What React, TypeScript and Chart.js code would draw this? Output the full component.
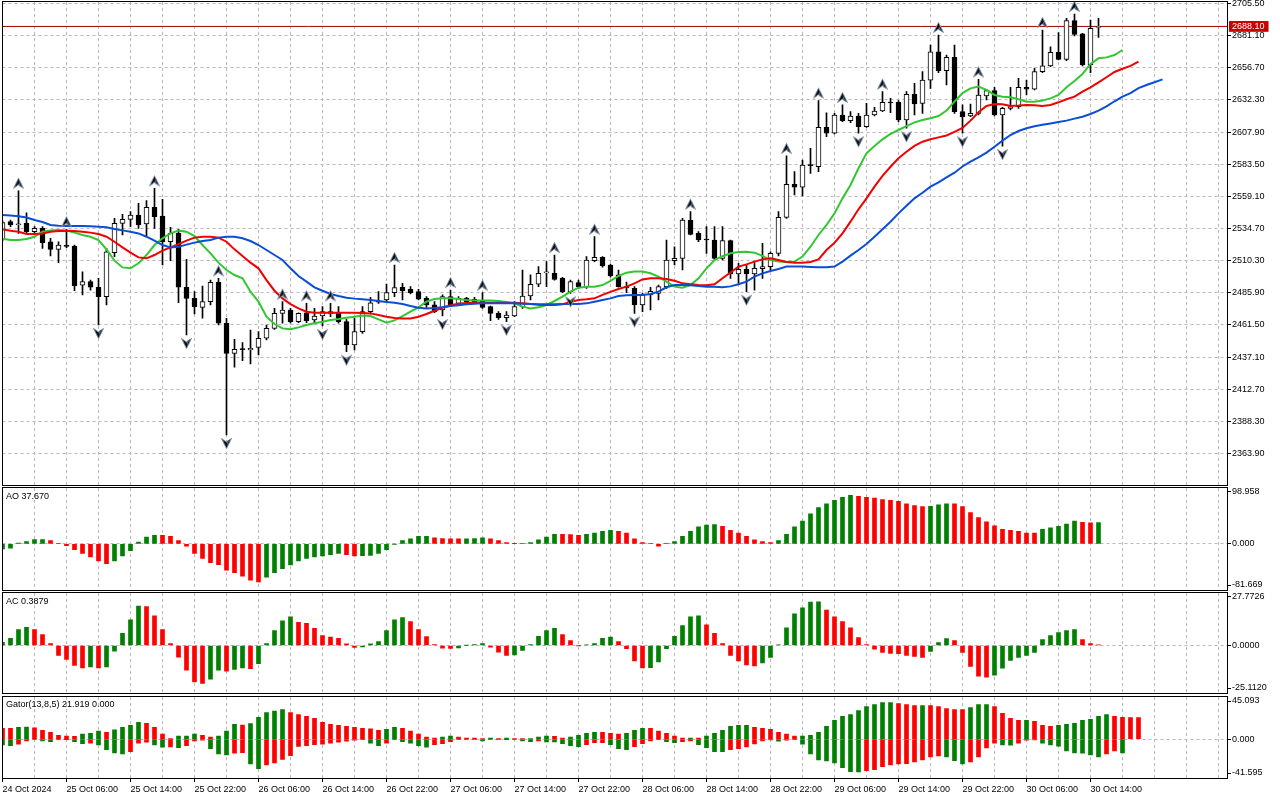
import React, { useEffect, useRef } from "react";
import { Chart, registerables } from "chart.js";

Chart.register(...registerables);

// ---------------- data (H1 bars, 24 Oct 22:00 .. 30 Oct 15:00) ----------------
const OPEN = [2526.0,2539.9,2537.6,2538.6,2532.3,2534.8,2524.7,2518.9,2521.6,2521.4,2491.8,2494.4,2490.1,2483.0,2516.4,2538.6,2541.7,2545.0,2538.2,2550.8,2544.2,2524.7,2531.0,2490.1,2481.7,2474.9,2479.2,2493.9,2462.8,2440.0,2443.2,2442.5,2444.5,2451.4,2458.9,2470.3,2472.9,2464.0,2470.8,2465.3,2468.3,2469.8,2470.3,2464.0,2446.3,2456.4,2471.6,2479.2,2480.5,2486.0,2490.1,2488.6,2486.8,2481.7,2476.7,2472.9,2483.0,2477.9,2481.7,2479.2,2480.0,2475.4,2470.3,2467.1,2468.3,2475.4,2483.5,2492.4,2501.0,2500.7,2496.9,2486.8,2493.6,2490.6,2510.3,2512.8,2507.0,2499.5,2490.6,2489.3,2476.7,2484.3,2485.5,2490.6,2510.3,2512.1,2541.2,2531.0,2526.5,2526.0,2512.1,2525.5,2500.2,2503.7,2500.2,2504.2,2505.8,2515.9,2543.2,2568.3,2566.0,2582.9,2581.7,2611.5,2607.0,2620.9,2616.6,2620.1,2612.0,2620.9,2623.9,2630.5,2630.5,2617.1,2636.6,2629.7,2647.4,2668.9,2654.5,2664.6,2623.4,2620.1,2622.1,2635.3,2639.4,2620.9,2625.9,2627.2,2641.9,2640.4,2653.8,2658.1,2668.4,2663.1,2692.5,2682.4,2658.8,2687.3];
const HIGH = [2540.5,2541.2,2563.4,2546.7,2536.1,2536.1,2527.3,2524.7,2534.1,2522.2,2501.9,2495.6,2496.9,2519.7,2542.4,2545.5,2547.5,2553.8,2555.9,2565.2,2556.9,2535.6,2534.1,2511.3,2486.8,2491.1,2495.6,2496.9,2466.6,2450.6,2448.1,2457.7,2456.4,2461.5,2474.1,2479.2,2474.1,2470.8,2477.9,2474.1,2475.4,2477.9,2475.4,2465.8,2466.6,2475.4,2482.5,2486.8,2492.6,2507.0,2493.1,2490.6,2488.6,2483.0,2479.2,2484.3,2488.0,2483.0,2482.5,2482.5,2486.0,2475.9,2471.6,2471.6,2479.2,2503.2,2499.5,2505.8,2509.6,2514.6,2497.7,2495.6,2495.6,2513.4,2528.5,2513.4,2507.8,2503.2,2494.0,2490.6,2485.5,2490.0,2491.8,2526.0,2520.9,2542.4,2547.5,2532.3,2536.1,2536.1,2536.1,2526.0,2508.3,2507.0,2509.6,2523.5,2517.1,2547.5,2589.8,2577.9,2586.7,2595.6,2631.8,2622.6,2622.1,2628.5,2623.4,2622.1,2629.7,2626.7,2638.6,2633.5,2631.8,2638.6,2644.9,2653.8,2674.0,2681.6,2666.4,2674.0,2628.5,2629.2,2647.9,2640.4,2641.9,2626.7,2641.9,2648.7,2647.4,2656.3,2685.4,2672.7,2683.4,2694.2,2697.5,2682.9,2693.0,2694.2];
const LOW = [2525.5,2536.1,2531.0,2531.0,2531.0,2519.7,2513.9,2508.8,2520.2,2487.5,2484.3,2488.0,2461.5,2476.7,2513.3,2529.8,2536.1,2534.8,2528.5,2534.8,2507.0,2510.3,2478.4,2453.9,2469.8,2466.6,2476.7,2461.5,2378.0,2429.4,2434.4,2431.9,2438.7,2450.1,2458.2,2462.8,2462.8,2463.3,2463.3,2462.8,2460.7,2467.8,2462.8,2441.2,2442.5,2455.1,2469.8,2477.9,2479.2,2483.0,2480.5,2485.0,2480.5,2474.9,2470.8,2468.3,2475.4,2476.7,2478.0,2478.0,2474.1,2464.8,2465.8,2464.0,2467.8,2474.1,2480.5,2490.6,2490.6,2495.6,2486.0,2485.5,2489.3,2489.3,2509.6,2505.3,2497.7,2490.1,2486.0,2470.3,2471.6,2473.0,2480.5,2489.3,2507.0,2503.2,2529.8,2524.7,2515.9,2510.8,2510.8,2496.9,2493.1,2486.8,2488.0,2496.9,2503.2,2513.9,2542.4,2560.2,2559.4,2576.6,2577.9,2604.4,2606.5,2615.8,2615.1,2607.0,2611.5,2620.1,2623.4,2622.6,2615.8,2610.8,2620.9,2622.1,2641.1,2653.0,2643.7,2622.1,2607.0,2619.6,2620.9,2632.3,2620.1,2597.3,2624.7,2625.9,2636.1,2639.9,2653.0,2657.6,2662.6,2662.1,2680.8,2658.1,2653.0,2679.8];
const CLOSE = [2539.2,2537.4,2538.0,2532.3,2534.8,2524.0,2518.9,2522.2,2521.2,2491.1,2494.4,2490.1,2483.0,2517.1,2538.6,2541.7,2545.0,2537.4,2550.8,2543.7,2524.7,2531.0,2490.1,2481.7,2475.4,2479.2,2493.9,2462.8,2440.0,2443.0,2442.8,2443.8,2451.4,2458.9,2470.3,2472.9,2464.0,2470.3,2464.8,2468.3,2471.6,2471.6,2464.0,2446.3,2456.4,2471.6,2478.4,2478.8,2486.0,2489.8,2487.5,2486.0,2481.0,2476.7,2471.6,2483.0,2476.7,2481.7,2479.2,2481.0,2474.9,2470.3,2467.1,2469.1,2475.4,2483.5,2492.4,2500.7,2501.4,2496.1,2486.8,2494.4,2490.6,2510.8,2512.8,2506.3,2498.7,2490.6,2489.6,2476.7,2484.3,2487.0,2490.6,2510.8,2512.1,2541.2,2530.3,2526.0,2526.0,2512.1,2525.5,2500.2,2503.7,2500.2,2504.5,2505.8,2515.9,2543.2,2568.3,2566.0,2582.9,2582.4,2611.5,2607.0,2620.9,2616.6,2620.1,2612.0,2620.9,2623.9,2630.5,2630.0,2617.1,2636.6,2629.2,2647.4,2668.9,2654.5,2664.6,2623.4,2619.6,2622.1,2636.0,2639.4,2620.9,2625.9,2627.2,2641.9,2640.4,2653.8,2658.1,2668.4,2663.1,2692.5,2682.1,2658.8,2686.7,2688.1];

// Alligator (displayed with their forward shifts: jaw +8, teeth +5, lips +3)
const JAW = [2545.0,2544.5,2544.0,2543.0,2541.2,2539.7,2537.4,2536.9,2536.6,2536.6,2536.6,2536.4,2536.1,2535.6,2534.4,2533.3,2532.3,2531.0,2528.5,2525.5,2522.2,2520.4,2520.9,2522.5,2524.0,2525.2,2526.0,2527.8,2528.5,2528.5,2527.3,2525.2,2522.2,2518.4,2514.6,2510.8,2504.5,2498.7,2494.4,2490.1,2487.5,2485.0,2483.5,2482.2,2481.5,2481.0,2480.5,2479.7,2479.0,2478.3,2477.4,2475.9,2474.6,2474.1,2474.4,2474.9,2475.9,2476.4,2477.2,2477.7,2477.9,2477.9,2477.9,2477.9,2477.9,2477.7,2477.4,2477.2,2477.2,2477.2,2477.4,2477.4,2477.4,2477.9,2479.2,2480.5,2481.7,2483.5,2484.0,2484.3,2484.3,2485.0,2486.8,2490.1,2491.8,2491.8,2491.6,2491.1,2490.6,2490.6,2490.2,2490.8,2492.4,2494.4,2498.2,2500.7,2502.5,2504.0,2505.8,2505.8,2505.8,2505.5,2505.3,2505.3,2505.8,2509.6,2514.1,2518.4,2523.0,2528.5,2534.1,2539.9,2546.2,2552.0,2557.6,2561.9,2566.5,2569.8,2573.6,2577.1,2581.8,2585.4,2588.7,2592.3,2596.8,2601.4,2605.7,2608.7,2610.8,2612.3,2613.5,2614.5,2615.6,2616.6,2618.1,2619.6,2621.6,2624.2,2627.5,2631.3,2634.8,2637.5,2641.3,2643.6,2645.7,2647.9];
const TEETH = [2534.1,2533.1,2532.3,2530.5,2530.5,2531.0,2532.3,2532.8,2533.1,2532.8,2532.3,2531.6,2530.5,2528.5,2524.7,2520.4,2516.4,2512.8,2512.1,2514.6,2517.9,2520.4,2522.9,2525.5,2527.8,2528.5,2528.5,2527.8,2524.7,2518.9,2513.9,2508.8,2504.5,2495.6,2487.5,2481.7,2477.4,2474.1,2471.6,2470.8,2470.8,2470.8,2470.8,2470.8,2470.8,2470.6,2470.3,2469.1,2467.8,2466.8,2466.5,2466.5,2467.8,2469.8,2472.3,2474.6,2476.4,2477.7,2478.2,2478.4,2478.4,2478.4,2478.4,2478.4,2478.4,2477.9,2477.4,2476.9,2476.7,2476.7,2477.2,2478.9,2480.5,2481.0,2481.7,2484.3,2486.6,2488.8,2490.6,2493.1,2496.1,2496.9,2496.9,2496.4,2495.1,2493.1,2492.4,2491.8,2491.6,2492.4,2497.0,2501.3,2505.8,2507.5,2509.6,2511.3,2512.1,2510.8,2509.3,2508.8,2508.8,2509.3,2511.3,2518.4,2523.9,2531.0,2539.9,2549.3,2557.6,2566.5,2574.6,2581.6,2588.0,2593.0,2597.4,2600.6,2602.4,2603.9,2605.3,2608.0,2611.0,2616.6,2623.0,2627.7,2629.2,2629.0,2627.7,2628.0,2628.5,2628.2,2627.7,2628.5,2630.5,2632.8,2634.8,2638.6,2641.9,2645.6,2649.5,2653.5,2656.0,2658.1,2661.3];
const LIPS = [2527.0,2526.0,2526.0,2526.8,2528.5,2532.3,2533.3,2533.6,2533.1,2531.6,2529.8,2528.5,2526.0,2518.9,2510.3,2505.2,2504.5,2508.3,2514.6,2522.2,2527.3,2531.0,2533.1,2532.3,2529.0,2522.2,2515.9,2508.8,2503.2,2499.4,2496.9,2486.8,2479.2,2467.8,2462.2,2458.9,2458.2,2459.7,2461.5,2462.8,2464.0,2465.3,2466.0,2467.0,2467.8,2468.6,2468.3,2465.8,2463.3,2465.0,2468.3,2471.6,2474.9,2479.2,2481.2,2481.7,2481.7,2481.2,2480.5,2480.0,2480.0,2480.0,2479.7,2478.9,2477.9,2475.4,2474.1,2474.9,2476.7,2479.7,2483.0,2486.8,2489.8,2490.6,2490.6,2491.8,2494.9,2498.7,2501.2,2502.0,2502.0,2500.7,2498.2,2494.4,2490.6,2489.8,2491.8,2496.9,2504.5,2510.8,2513.7,2515.9,2516.9,2517.1,2516.4,2513.9,2510.8,2509.6,2509.3,2509.6,2513.4,2520.9,2529.8,2537.4,2546.2,2557.6,2567.7,2580.4,2591.8,2597.3,2602.4,2606.5,2609.5,2612.5,2615.3,2617.1,2618.4,2620.1,2624.3,2631.0,2637.5,2641.1,2642.4,2639.9,2636.1,2634.8,2634.3,2632.8,2631.0,2631.0,2631.8,2633.5,2636.1,2641.9,2646.7,2652.0,2659.6,2663.9,2664.6,2666.4,2670.2];

// Fractal bar indexes
const FRACTAL_UP = [2,8,19,27,35,38,41,49,56,60,69,74,86,98,102,105,110,117,122,130,134];
const FRACTAL_DOWN = [12,23,28,40,43,55,63,71,79,93,107,113,120,125];

// Oscillators
const AO = [-9.0,-7.8,1.2,4.2,7.4,7.6,6.0,0.6,-3.0,-10.2,-16.9,-22.9,-30.1,-34.9,-30.1,-21.1,-12.0,3.0,12.0,15.3,15.0,13.2,6.0,-4.2,-16.9,-25.9,-33.1,-36.7,-46.4,-51.2,-57.2,-64.4,-67.4,-59.0,-51.2,-43.9,-37.3,-30.1,-25.9,-22.9,-21.1,-19.3,-16.9,-19.3,-21.1,-20.8,-20.5,-16.9,-10.2,-0.5,6.0,9.0,13.2,13.5,10.8,9.3,9.1,9.0,9.1,9.3,10.8,9.0,6.0,2.4,0.2,0.6,2.4,7.2,12.0,16.9,16.7,16.5,15.1,16.9,19.3,22.3,24.1,22.3,19.3,9.0,2.4,0.6,-4.2,0.6,4.2,13.2,22.3,30.1,33.1,34.3,31.3,24.1,19.3,13.2,7.2,4.2,2.4,6.0,16.9,30.1,40.3,53.0,64.4,71.0,77.1,82.5,86.1,84.3,82.5,81.3,78.3,77.1,75.3,71.0,68.0,66.2,66.4,69.2,71.0,70.8,66.2,55.4,46.4,39.1,31.9,25.9,24.1,22.3,19.3,19.1,25.9,28.3,31.3,34.9,40.3,38.0,37.5,37.67];
const AC = [1.7,3.8,8.4,9.6,8.4,5.8,1.0,-5.2,-7.3,-10.5,-11.9,-11.3,-11.9,-11.3,-3.0,6.5,13.6,20.9,20.6,15.7,8.4,1.0,-6.1,-13.1,-19.2,-20.1,-17.8,-13.1,-13.6,-12.6,-11.9,-12.2,-9.6,1.0,7.9,13.1,15.2,12.2,11.7,9.1,5.2,4.4,3.8,0.9,-1.0,-0.8,0.9,2.1,7.9,13.6,14.8,12.6,8.4,4.7,0.5,-1.4,-1.5,-1.3,0.1,0.5,1.0,-0.9,-3.5,-5.2,-5.0,-2.6,0.5,4.9,7.9,9.1,5.8,2.6,-0.1,0.3,1.0,3.8,4.4,2.1,-1.7,-8.2,-11.9,-11.7,-8.7,-1.7,4.9,10.5,15.2,15.7,11.0,6.5,1.0,-5.2,-8.2,-10.3,-10.8,-9.2,-6.3,0.3,9.4,16.8,19.9,23.0,23.1,18.8,15.2,12.6,9.4,4.2,0.5,-1.9,-3.7,-4.2,-4.3,-5.2,-5.8,-6.3,-3.1,1.6,3.7,2.6,-3.7,-11.0,-16.2,-16.8,-15.7,-12.0,-7.9,-6.3,-5.2,-3.7,3.1,5.2,6.8,7.9,8.4,3.1,1.0,0.3879];
const GATOR_UP = [11.6,11.5,12.7,12.8,12.0,9.5,7.4,4.2,3.2,3.1,5.3,6.3,8.5,7.4,9.9,12.7,14.8,18.0,16.9,12.7,5.3,0.3,3.2,3.3,5.3,4.2,2.1,3.2,8.5,15.9,15.1,16.6,23.3,28.5,29.9,31.7,28.5,26.4,24.3,22.2,18.0,15.9,14.8,13.7,12.7,11.6,10.9,9.5,10.6,12.7,11.6,8.5,5.3,2.1,1.1,2.1,3.2,2.1,1.1,1.0,0.5,1.0,0.7,1.1,0.7,0.4,0.6,2.1,3.2,3.1,1.1,2.1,4.2,6.3,7.4,7.3,6.3,5.3,6.3,9.5,11.6,11.5,8.5,6.3,3.2,1.1,1.2,1.0,3.2,6.3,9.5,13.7,14.8,14.9,12.7,11.6,10.6,7.4,5.3,3.2,3.3,4.2,7.4,13.7,20.1,24.3,26.4,30.6,34.9,37.0,39.1,39.2,38.0,37.0,35.9,36.0,35.8,34.9,32.8,31.7,31.6,33.8,37.0,37.1,34.9,27.5,22.2,20.1,20.2,19.0,14.8,13.7,14.8,15.9,16.9,20.1,21.1,24.3,26.4,24.3,23.3,23.2,23.1];
const GATOR_DOWN = [6.3,7.0,5.3,1.8,0.5,1.8,2.8,0.5,0.3,2.8,4.9,4.2,6.3,11.3,14.8,15.9,13.4,4.2,3.2,6.3,8.5,8.3,9.2,7.0,1.8,1.1,10.2,15.9,16.9,15.1,14.4,26.4,31.7,27.5,25.4,21.8,17.6,7.8,7.0,6.0,5.3,4.2,3.2,2.1,1.1,0.7,4.2,7.0,4.2,0.7,2.8,4.2,7.0,8.5,6.0,4.9,2.8,0.7,0.5,0.6,1.8,0.5,0.6,0.3,0.7,1.8,2.8,1.8,2.9,3.0,4.9,7.0,8.1,6.0,3.9,3.8,6.0,10.2,11.3,8.1,4.9,1.8,0.7,2.8,3.9,2.8,1.8,6.0,9.2,13.4,13.5,11.3,10.2,8.3,5.1,2.0,0.8,2.1,1.0,0.5,5.3,15.9,22.2,23.3,25.4,30.6,34.9,35.0,33.8,32.8,29.6,27.5,26.4,26.3,24.3,22.2,19.0,18.0,19.0,23.0,26.4,24.3,19.0,9.5,4.2,6.3,6.4,4.2,1.0,0.8,4.2,6.3,7.4,12.7,14.8,14.9,16.9,19.0,15.9,12.7,14.8];

// Axis labels / scales
const PRICE_TICKS = [2705.5,2681.1,2656.7,2632.3,2607.9,2583.5,2559.1,2534.7,2510.3,2485.9,2461.5,2437.1,2412.7,2388.3,2363.9];
const TIME_LABELS = ["24 Oct 2024","25 Oct 06:00","25 Oct 14:00","25 Oct 22:00","26 Oct 06:00","26 Oct 14:00","26 Oct 22:00","27 Oct 06:00","27 Oct 14:00","27 Oct 22:00","28 Oct 06:00","28 Oct 14:00","28 Oct 22:00","29 Oct 06:00","29 Oct 14:00","29 Oct 22:00","30 Oct 06:00","30 Oct 14:00"];
const AO_RANGE = [98.958, -81.669];
const AC_RANGE = [27.7726, -25.112];
const GATOR_RANGE = [45.093, -41.595];
const GATOR_TEXT = "Gator(13,8,5) 21.919 0.000";

// ---------------- layout / style ----------------
const FONT_FAMILY = "'Liberation Sans', Arial, sans-serif";
const FONT = { family: FONT_FAMILY, size: 9 };
const GRID = "#bfb3bf";
const CLEAR = "rgba(0,0,0,0)";
const UP_GREEN = "#008000";
const DOWN_RED = "#ff0000";
const BAR_PX = 8;
const AREA_LEFT = 2.5;
const AREA_RIGHT = 1227;
const AXIS_W = 1280 - AREA_RIGHT;
const X_MAX = (AREA_RIGHT - AREA_LEFT) / BAR_PX;
const PX_PER_PRICE = 1 / 0.759;
const LAST = CLOSE[CLOSE.length - 1];
const P_MAX = PRICE_TICKS[0] + (3.5 - 2) / PX_PER_PRICE;
const P_MIN = PRICE_TICKS[0] - (485 - 3.5) / PX_PER_PRICE;

const isLabelTick = (v: number) => v % 8 === 0 && v / 8 < TIME_LABELS.length;

function xScale(showLabels: boolean) {
  return {
    type: "linear",
    min: 0,
    max: X_MAX,
    offset: false,
    afterBuildTicks: (s: any) => {
      const t: any[] = [];
      for (let v = 0; v <= X_MAX; v += 4) t.push({ value: v });
      s.ticks = t;
    },
    afterFit: (s: any) => {
      s.height = showLabels ? 22 : 0;
      s.paddingLeft = 0;
      s.paddingRight = 0;
    },
    grid: {
      color: GRID,
      offset: false,
      drawTicks: showLabels,
      tickLength: 4,
      tickWidth: 1,
      tickColor: (c: any) => (c.tick && isLabelTick(c.tick.value) ? "#000" : CLEAR),
      tickBorderDash: [],
      borderDash: [3, 3],
    },
    border: { display: false, dash: [3, 3] },
    ticks: {
      display: showLabels,
      autoSkip: false,
      maxRotation: 0,
      minRotation: 0,
      align: "start",
      padding: 2,
      color: "#000",
      font: FONT,
      callback: (v: any) => (isLabelTick(Number(v)) ? TIME_LABELS[Number(v) / 8] : ""),
    },
  };
}

function subY(range: number[], paneH: number, decimals: number) {
  const [max, min] = range;
  const upp = (max - min) / paneH;
  const vals = [max - 4 * upp, 0, min + 5 * upp];
  const labels = [max, 0, min].map((v) => v.toFixed(decimals));
  return {
    type: "linear",
    position: "right",
    min,
    max,
    afterBuildTicks: (s: any) => {
      s.ticks = vals.map((v) => ({ value: v }));
    },
    afterFit: (s: any) => {
      s.width = AXIS_W;
      s.paddingTop = 0;
      s.paddingBottom = 0;
    },
    grid: {
      color: (c: any) => (c.tick && c.tick.value === 0 ? GRID : CLEAR),
      tickLength: 4,
      tickColor: "#000",
      tickBorderDash: [],
      borderDash: [3, 3],
    },
    border: { display: false, dash: [3, 3] },
    ticks: {
      autoSkip: false,
      padding: 1,
      crossAlign: "near",
      color: "#000",
      font: FONT,
      callback: (_v: any, i: number) => labels[i],
    },
  };
}

function baseOptions(padTop: number, padBottom: number, scales: any) {
  return {
    animation: false,
    responsive: false,
    maintainAspectRatio: false,
    events: [],
    layout: { autoPadding: false, padding: { left: AREA_LEFT, right: 0, top: padTop, bottom: padBottom } },
    plugins: { legend: { display: false }, tooltip: { enabled: false }, title: { display: false } },
    scales,
  };
}

function trendColors(vals: number[], first: string) {
  return vals.map((v, i) => (i === 0 ? first : v > vals[i - 1] ? UP_GREEN : DOWN_RED));
}

function makeArrow(up: boolean) {
  const c = document.createElement("canvas");
  c.width = 13;
  c.height = 44;
  const g = c.getContext("2d")!;
  const cx = 6.5;
  const cy = 22;
  const s = up ? -1 : 1;
  const tip = up ? 12.5 : 13.5;
  const base = up ? 2.5 : 3.5;
  const pts = [
    [cx, cy + s * tip],
    [cx + 5, cy + s * base],
    [cx, cy + s * (base + 3.5)],
    [cx - 5, cy + s * base],
  ];
  g.beginPath();
  pts.forEach(([x, y], k) => (k ? g.lineTo(x, y) : g.moveTo(x, y)));
  g.closePath();
  g.fillStyle = "#101010";
  g.fill();
  g.strokeStyle = "#7f90ad";
  g.lineWidth = 1;
  g.stroke();
  // light inner highlight on one side
  g.beginPath();
  g.moveTo(cx + 0.5, cy + s * (tip - 3));
  g.lineTo(cx + 3.2, cy + s * (base + 0.8));
  g.lineTo(cx + 0.5, cy + s * (base + 2.6));
  g.closePath();
  g.fillStyle = "#5a6478";
  g.fill();
  return c;
}

const idx = (arr: number[]) => arr.map((v, i) => ({ x: i, y: v }));

function mainConfig(): any {
  const up = makeArrow(true);
  const down = makeArrow(false);
  const lineDs = (data: number[], color: string) => ({
    type: "line",
    data: idx(data),
    borderColor: color,
    borderWidth: 2,
    pointRadius: 0,
    tension: 0,
    order: 1,
  });
  return {
    type: "bar",
    data: {
      datasets: [
        {
          type: "line",
          data: [{ x: 0, y: LAST }, { x: X_MAX, y: LAST }],
          borderColor: "#a00000",
          borderWidth: 1,
          pointRadius: 0,
          order: 5,
        },
        {
          type: "bar",
          data: LOW.map((l, i) => ({ x: i, y: [l, HIGH[i]] })),
          backgroundColor: "#000",
          barThickness: 1,
          grouped: false,
          order: 3,
        },
        {
          type: "bar",
          data: OPEN.map((o, i) => ({ x: i, y: [o, CLOSE[i]] })),
          backgroundColor: OPEN.map((o, i) => (CLOSE[i] >= o ? "#ffffff" : "#000000")),
          borderColor: "#000",
          borderWidth: 1,
          borderSkipped: false,
          barThickness: 5,
          minBarLength: 1,
          grouped: false,
          order: 2,
        },
        lineDs(JAW, "#0a4ed6"),
        lineDs(TEETH, "#f00000"),
        lineDs(LIPS, "#33c633"),
        {
          type: "line",
          data: FRACTAL_UP.map((i) => ({ x: i, y: HIGH[i] })),
          showLine: false,
          pointStyle: up,
          pointRadius: 4,
          order: 0,
        },
        {
          type: "line",
          data: FRACTAL_DOWN.map((i) => ({ x: i, y: LOW[i] })),
          showLine: false,
          pointStyle: down,
          pointRadius: 4,
          order: 0,
        },
      ],
    },
    options: baseOptions(2, 2, {
      x: xScale(false),
      y: {
        type: "linear",
        position: "right",
        min: P_MIN,
        max: P_MAX,
        afterBuildTicks: (s: any) => {
          s.ticks = [...PRICE_TICKS, LAST].map((v) => ({ value: v }));
        },
        afterFit: (s: any) => {
          s.width = AXIS_W;
          s.paddingTop = 0;
          s.paddingBottom = 0;
        },
        grid: {
          color: (c: any) => (c.tick && c.tick.value === LAST ? CLEAR : GRID),
          tickLength: 4,
          tickColor: (c: any) => (c.tick && c.tick.value === LAST ? CLEAR : "#000"),
          tickBorderDash: [],
          borderDash: [3, 3],
        },
        border: { display: false, dash: [3, 3] },
        ticks: {
          autoSkip: false,
          padding: 1,
          crossAlign: "near",
          font: FONT,
          color: (c: any) => (c.tick && c.tick.value === LAST ? "#ffffff" : "#000000"),
          showLabelBackdrop: (c: any) => !!(c.tick && c.tick.value === LAST),
          backdropColor: "#c80000",
          backdropPadding: { left: 3, right: 4, top: 0, bottom: 0 },
          callback: (v: any) => Number(v).toFixed(2),
        },
      },
    }),
  };
}

function histConfig(series: { vals: number[]; sign: number; first: string }[], range: number[], paneH: number, decimals: number, padTop: number, padBottom: number, showTime: boolean): any {
  return {
    type: "bar",
    data: {
      datasets: series.map((s) => ({
        type: "bar",
        data: s.vals.map((v, i) => ({ x: i, y: s.sign * v })),
        backgroundColor: trendColors(s.vals, s.first),
        barThickness: 4,
        grouped: false,
      })),
    },
    options: baseOptions(padTop, padBottom, {
      x: xScale(showTime),
      y: subY(range, paneH, decimals),
    }),
  };
}

function Pane({ top, height, make }: { top: number; height: number; make: () => any }) {
  const ref = useRef<HTMLCanvasElement>(null);
  useEffect(() => {
    const chart = new Chart(ref.current as HTMLCanvasElement, make());
    return () => chart.destroy();
  }, []);
  return (
    <canvas
      ref={ref}
      width={1280}
      height={height}
      style={{ position: "absolute", left: 0, top, width: 1280, height, display: "block" }}
    />
  );
}

const frame = (top: number, height: number): React.CSSProperties => ({
  position: "absolute",
  left: 2,
  top,
  width: 1226,
  height,
  border: "1px solid #000",
  boxSizing: "border-box",
  pointerEvents: "none",
});

const paneLabel = (top: number): React.CSSProperties => ({
  position: "absolute",
  left: 6,
  top,
  font: `9px ${FONT_FAMILY}`,
  lineHeight: "11px",
  color: "#000",
  whiteSpace: "nowrap",
});

export default function App() {
  return (
    <div style={{ position: "absolute", left: 0, top: 0, width: 1280, height: 800, background: "#fff", overflow: "hidden" }}>
      <Pane top={0} height={487} make={mainConfig} />
      <Pane
        top={487}
        height={104}
        make={() => histConfig([{ vals: AO, sign: 1, first: UP_GREEN }], AO_RANGE, 102, 3, 1, 1, false)}
      />
      <Pane
        top={592}
        height={102}
        make={() => histConfig([{ vals: AC, sign: 1, first: UP_GREEN }], AC_RANGE, 100, 4, 1, 1, false)}
      />
      <Pane
        top={696}
        height={104}
        make={() =>
          histConfig(
            [
              { vals: GATOR_UP, sign: 1, first: DOWN_RED },
              { vals: GATOR_DOWN, sign: -1, first: UP_GREEN },
            ],
            GATOR_RANGE,
            81,
            3,
            1,
            0,
            true
          )
        }
      />
      <div style={frame(1, 485)} />
      <div style={frame(487, 104)} />
      <div style={frame(592, 102)} />
      <div style={frame(696, 83)} />
      <div style={paneLabel(491)}>{"AO " + AO[AO.length - 1].toFixed(3)}</div>
      <div style={paneLabel(595.5)}>{"AC " + AC[AC.length - 1].toFixed(4)}</div>
      <div style={paneLabel(699)}>{GATOR_TEXT}</div>
    </div>
  );
}
